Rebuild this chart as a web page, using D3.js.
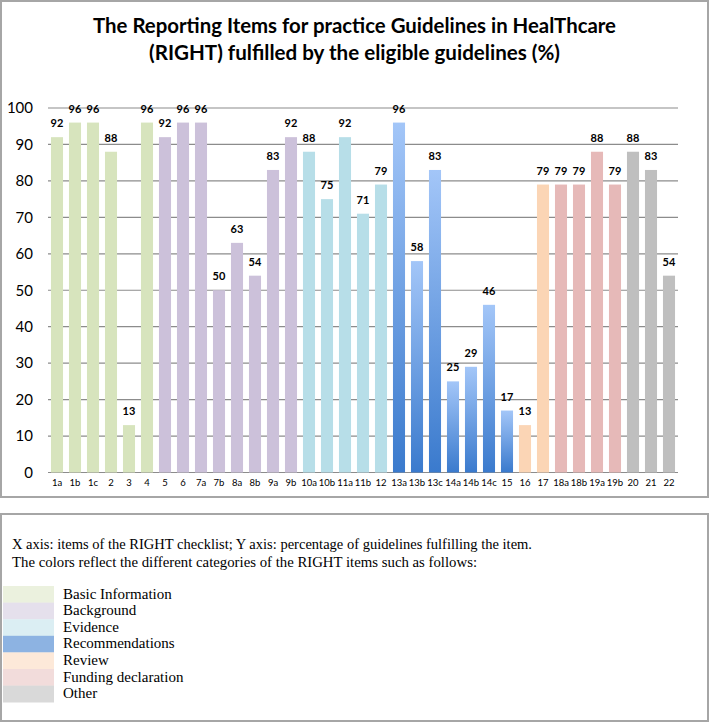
<!DOCTYPE html>
<html><head><meta charset="utf-8">
<script src="https://cdn.jsdelivr.net/npm/d3@7"></script>
<style>body{margin:0;background:#fff}svg{display:block}</style>
</head><body>
<svg id="c" width="710" height="723"></svg>
<script>
const items = ["1a","1b","1c","2","3","4","5","6","7a","7b","8a","8b","9a","9b","10a","10b","11a","11b","12","13a","13b","13c","14a","14b","14c","15","16","17","18a","18b","19a","19b","20","21","22"];
const values = [92,96,96,88,13,96,92,96,96,50,63,54,83,92,88,75,92,71,79,96,58,83,25,29,46,17,13,79,79,79,88,79,88,83,54];
const itemCategory = ["basic","basic","basic","basic","basic","basic","background","background","background","background","background","background","background","background","evidence","evidence","evidence","evidence","evidence","rec","rec","rec","rec","rec","rec","rec","review","review","funding","funding","funding","funding","other","other","other"];
const categoryKeys = ["basic","background","evidence","rec","review","funding","other"];
const categoryNames = ["Basic Information","Background","Evidence","Recommendations","Review","Funding declaration","Other"];
const barColors = ["#d7e4bd","#ccc1da","#b7dee8","url(#recGrad)","#fbd5b5","#e6b9b8","#bfbfbf"];
const legendColors = ["#ebf1de","#e5e0ec","#dbeef3","#8db3e2","#fde9d9","#f2dcdb","#d9d9d9"];
const yTicks = [0,10,20,30,40,50,60,70,80,90,100];
const titleLines = ["The Reporting Items for practice Guidelines in HealThcare","(RIGHT) fulfilled by the eligible guidelines (%)"];
const noteLines = ["X axis: items of the RIGHT checklist; Y axis: percentage of guidelines fulfilling the item.","The colors reflect the different categories of the RIGHT items such as follows:"];

const svg = d3.select("#c");
const defs = svg.append("defs");
const g = defs.append("linearGradient").attr("id","recGrad").attr("x1",0).attr("y1",0).attr("x2",0).attr("y2",1);
g.append("stop").attr("offset","0%").attr("stop-color","#a3c6f8");
g.append("stop").attr("offset","100%").attr("stop-color","#3a7acd");

// panels
svg.append("rect").attr("x",1).attr("y",1).attr("width",707).attr("height",496).attr("fill","#fff").attr("stroke","#a6a6a6").attr("stroke-width",2);
svg.append("rect").attr("x",1).attr("y",514).attr("width",707).attr("height",207).attr("fill","#fff").attr("stroke","#a6a6a6").attr("stroke-width",2);

// title
const tl = [{t:titleLines[0],y:33,w:523},{t:titleLines[1],y:60,w:411}];
svg.selectAll("text.title").data(tl).join("text").attr("class","title")
  .attr("x",354.5).attr("y",d=>d.y).attr("text-anchor","middle")
  .attr("font-family","Lato, 'Open Sans', sans-serif").attr("font-weight","bold").attr("font-size",21)
  .attr("textLength",d=>d.w).attr("lengthAdjust","spacingAndGlyphs")
  .attr("fill","#000").text(d=>d.t);

const x = d3.scaleBand().domain(items).range([48,678]).paddingInner(0.33).paddingOuter(0.165);
const y = d3.scaleLinear().domain([0,100]).range([472.5,108]);

// grid
svg.append("g").selectAll("line").data(yTicks).join("line")
  .attr("x1",48).attr("x2",678).attr("y1",d=>y(d)).attr("y2",d=>y(d))
  .attr("stroke","#8c8c8c").attr("stroke-width",1.2);

// y axis labels
const yAxis = d3.axisLeft(y).tickValues(yTicks).tickSize(0).tickPadding(0);
const ya = svg.append("g").attr("transform","translate(33,0)").call(yAxis);
ya.select(".domain").remove();
ya.selectAll("text").attr("font-family","Lato, 'Open Sans', sans-serif").attr("font-size",15).attr("fill","#000");

// bars
const data = items.map((it,i)=>({item:it,value:values[i],cat:itemCategory[i]}));
svg.append("g").selectAll("rect").data(data).join("rect")
  .attr("x",d=>x(d.item)).attr("width",x.bandwidth())
  .attr("y",d=>y(d.value)).attr("height",d=>y(0)-y(d.value))
  .attr("fill",d=>barColors[categoryKeys.indexOf(d.cat)]);

// value labels
svg.append("g").selectAll("text").data(data).join("text")
  .attr("x",d=>x(d.item)+x.bandwidth()/2).attr("y",d=>y(d.value)-10)
  .attr("text-anchor","middle").attr("font-family","Lato, 'Open Sans', sans-serif")
  .attr("font-weight","bold").attr("font-size",11).attr("fill","#000").text(d=>d.value);

// x axis labels
const xAxis = d3.axisBottom(x).tickSize(0).tickPadding(0);
const xa = svg.append("g").attr("transform","translate(0,479)").call(xAxis);
xa.select(".domain").remove();
xa.selectAll("text").attr("font-family","Lato, 'Open Sans', sans-serif").attr("font-size",9.5).attr("fill","#000");

// notes
svg.selectAll("text.note").data([{t:noteLines[0],y:549,w:520},{t:noteLines[1],y:567,w:465}]).join("text").attr("class","note")
  .attr("x",12).attr("y",d=>d.y).attr("font-family","'Liberation Serif', serif").attr("font-size",15)
  .attr("textLength",d=>d.w).attr("lengthAdjust","spacingAndGlyphs").attr("fill","#000").text(d=>d.t);

// legend
const leg = svg.append("g");
const rowH = 16.6;
leg.selectAll("rect").data(categoryNames).join("rect")
  .attr("x",3).attr("y",(d,i)=>586+i*rowH).attr("width",51).attr("height",rowH+0.3)
  .attr("fill",(d,i)=>legendColors[i]);
leg.selectAll("text").data(categoryNames).join("text")
  .attr("x",63).attr("y",(d,i)=>586+i*rowH+12.5).attr("font-family","'Liberation Serif', serif").attr("font-size",15)
  .attr("fill","#000").text(d=>d);
</script>
</body></html>
